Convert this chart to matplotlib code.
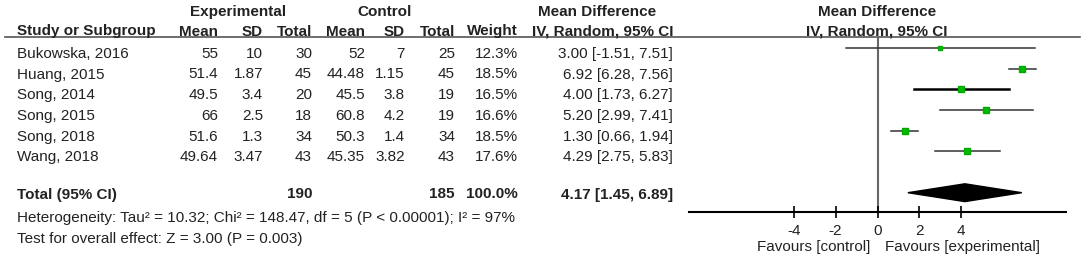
import matplotlib
matplotlib.use("Agg")
import matplotlib.pyplot as plt
from matplotlib.patches import Polygon

studies = ["Bukowska, 2016", "Huang, 2015", "Song, 2014", "Song, 2015", "Song, 2018", "Wang, 2018"]
exp_mean = ["55", "51.4", "49.5", "66", "51.6", "49.64"]
exp_sd = ["10", "1.87", "3.4", "2.5", "1.3", "3.47"]
exp_n = ["30", "45", "20", "18", "34", "43"]
ctl_mean = ["52", "44.48", "45.5", "60.8", "50.3", "45.35"]
ctl_sd = ["7", "1.15", "3.8", "4.2", "1.4", "3.82"]
ctl_n = ["25", "45", "19", "19", "34", "43"]
weights = [12.3, 18.5, 16.5, 16.6, 18.5, 17.6]
md = [3.00, 6.92, 4.00, 5.20, 1.30, 4.29]
lo = [-1.51, 6.28, 1.73, 2.99, 0.66, 2.75]
hi = [7.51, 7.56, 6.27, 7.41, 1.94, 5.83]
total_md, total_lo, total_hi = 4.17, 1.45, 6.89
total_exp, total_ctl = "190", "185"
ticks = [-4, -2, 0, 2, 4]

plt.rcParams['font.family'] = ['Liberation Sans', 'DejaVu Sans']
W, H = 1084, 260
fig = plt.figure(figsize=(W / 100, H / 100), dpi=100)

tx = fig.add_axes([0, 0, 1, 1])
tx.set_xlim(0, W)
tx.set_ylim(H, 0)
tx.axis('off')

row0, dy = 47.8, 20.7
def ry(i):
    return row0 + dy * i
text_off = 6.0

fs = 11
tc = '#222222'
kw = dict(va='center', fontsize=fs, color=tc)
tx.text(238, 12, "Experimental", ha='center', fontweight='bold', **kw)
tx.text(385, 12, "Control", ha='center', fontweight='bold', **kw)
tx.text(597, 12, "Mean Difference", ha='center', fontweight='bold', **kw)
tx.text(877, 12, "Mean Difference", ha='center', fontweight='bold', **kw)
hy = 31.5
tx.text(17, hy, "Study or Subgroup", ha='left', fontweight='bold', **kw)
cols = [(218, "Mean"), (263, "SD"), (312, "Total"), (365, "Mean"), (405, "SD"),
        (455, "Total"), (518, "Weight"), (673, "IV, Random, 95% CI")]
for x, s in cols:
    tx.text(x, hy, s, ha='right', fontweight='bold', **kw)
tx.text(877, hy, "IV, Random, 95% CI", ha='center', fontweight='bold', **kw)
tx.plot([5, 1080], [37.3, 37.3], color='#555555', lw=1.2)

for i, s in enumerate(studies):
    y = ry(i) + text_off
    tx.text(17, y, s, ha='left', **kw)
    vals = [exp_mean[i], exp_sd[i], exp_n[i], ctl_mean[i], ctl_sd[i], ctl_n[i],
            f"{weights[i]:.1f}%", f"{md[i]:.2f} [{lo[i]:.2f}, {hi[i]:.2f}]"]
    for (x, _), v in zip(cols, vals):
        tx.text(x, y, v, ha='right', **kw)

yt = 194.5
tx.text(17, yt, "Total (95% CI)", ha='left', fontweight='bold', **kw)
tx.text(312, yt, total_exp, ha='right', fontweight='bold', **kw)
tx.text(455, yt, total_ctl, ha='right', fontweight='bold', **kw)
tx.text(518, yt, f"{sum(weights):.1f}%", ha='right', fontweight='bold', **kw)
tx.text(673, yt, f"{total_md:.2f} [{total_lo:.2f}, {total_hi:.2f}]", ha='right',
        fontweight='bold', **kw)
tx.text(17, 218, "Heterogeneity: Tau² = 10.32; Chi² = 148.47, df = 5 (P < 0.00001); I² = 97%",
        ha='left', **kw)
tx.text(17, 238.5, "Test for overall effect: Z = 3.00 (P = 0.003)", ha='left', **kw)

left, right = 689, 1066
top, bottom = 37.3, 211.7
ax = fig.add_axes([left / W, 1 - bottom / H, (right - left) / W, (bottom - top) / H])
ax.set_facecolor('none')
ax.set_xlim(-9, 9)
ax.set_ylim((bottom - row0) / dy, (top - row0) / dy)
for sp in ['top', 'left', 'right']:
    ax.spines[sp].set_visible(False)
ax.spines['bottom'].set_linewidth(1.5)
ax.set_yticks([])
ax.set_xticks(ticks)
ax.set_xticklabels([str(t) for t in ticks], fontsize=fs, color=tc)
ax.tick_params(axis='x', direction='inout', length=8, width=1.2, pad=5)
ax.axvline(0, color='#666666', lw=1.5, zorder=1)

for i in range(len(studies)):
    lw = 1.8 if i == 2 else 1.1
    col = 'black' if i == 2 else '#333333'
    ax.plot([lo[i], hi[i]], [i, i], color=col, lw=lw, zorder=2)
    ax.plot(md[i], i, marker='s', ms=weights[i] * 0.24, color='#00bb00',
            mec='#00aa00', zorder=3, ls='none')

diamond = Polygon([[total_lo, 7], [total_md, 7 - 0.43], [total_hi, 7], [total_md, 7 + 0.43]],
                  closed=True, color='black', zorder=3)
ax.add_patch(diamond)

tx.text(870, 247, "Favours [control]", ha='right', **kw)
tx.text(885, 247, "Favours [experimental]", ha='left', **kw)

fig.savefig("out.png", dpi=100)
